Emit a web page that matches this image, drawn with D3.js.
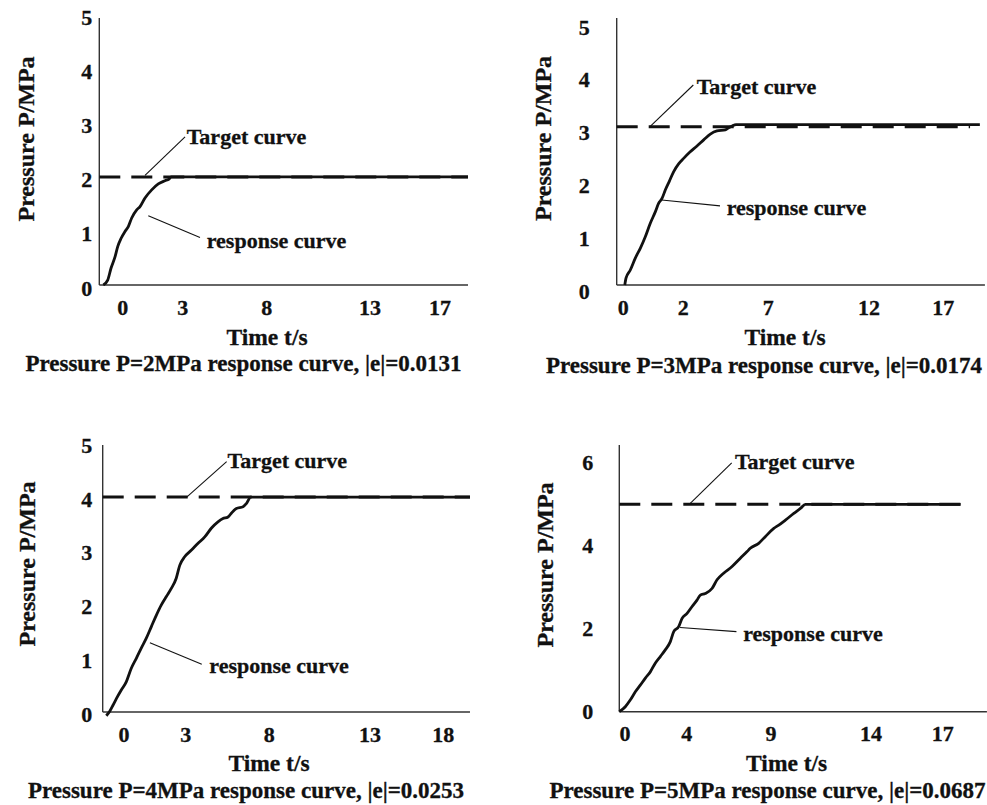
<!DOCTYPE html>
<html lang="en">
<head>
<meta charset="utf-8">
<title>Pressure response curves</title>
<script src="https://cdn.jsdelivr.net/npm/d3@7"></script>
<style>
  body { margin: 0; background: #fff; }
  svg text { font-family: "Liberation Serif", "Times New Roman", serif; font-weight: bold; fill: #111; stroke: #111; stroke-width: 0.3px; }
</style>
</head>
<body>
<div id="chart"></div>
<script>
// values (time in s, pressure in MPa)
var time2 = [-0.97, -0.75, -0.585, -0.385, -0.25, -0.085, 0.115, 0.28, 0.45, 0.7, 0.865, 1.115, 1.45, 1.78, 2.115, 2.315, 2.42, 18.6];
var pres2 = [0, 0.09, 0.31, 0.52, 0.71, 0.86, 0.99, 1.08, 1.24, 1.39, 1.45, 1.61, 1.76, 1.87, 1.93, 1.96, 2.0, 2.0];

var time3 = [0.05, 0.09, 0.23, 0.4, 0.57, 0.73, 0.9, 1.07, 1.18, 1.29, 1.4, 1.53, 1.68, 1.85, 2.02, 2.39, 2.79, 3.2, 3.59, 3.98, 4.47, 4.67, 4.86, 5.1, 19.46];
var pres3 = [0, 0.13, 0.28, 0.51, 0.70, 0.91, 1.17, 1.39, 1.55, 1.64, 1.80, 1.96, 2.15, 2.30, 2.40, 2.52, 2.63, 2.75, 2.86, 2.92, 2.94, 2.98, 3.01, 3.04, 3.04];

var time4 = [-0.86, -0.70, -0.53, -0.37, -0.13, 0.11, 0.35, 0.60, 0.84, 1.08, 1.33, 1.57, 1.81, 2.06, 2.30, 2.54, 2.71, 2.95, 3.33, 3.74, 4.14, 4.53, 4.93, 5.23, 5.53, 5.73, 6.03, 6.43, 6.63, 6.89, 19.82];
var pres4 = [-0.07, 0.01, 0.13, 0.25, 0.41, 0.56, 0.81, 1.00, 1.19, 1.37, 1.59, 1.80, 1.99, 2.15, 2.30, 2.49, 2.73, 2.89, 3.01, 3.14, 3.26, 3.42, 3.54, 3.60, 3.63, 3.70, 3.79, 3.82, 3.88, 4.0, 4.0];

var time5 = [-0.37, 0.02, 0.34, 0.67, 0.99, 1.32, 1.64, 1.96, 2.29, 2.61, 2.94, 3.16, 3.48, 3.70, 4.02, 4.31, 4.61, 4.81, 5.10, 5.50, 5.80, 6.19, 6.69, 7.18, 7.58, 7.77, 8.27, 8.66, 9.14, 9.39, 9.72, 10.14, 10.47, 10.72, 17.75];
var pres5 = [0, 0.12, 0.28, 0.48, 0.64, 0.81, 0.96, 1.17, 1.33, 1.49, 1.69, 1.93, 2.05, 2.25, 2.37, 2.53, 2.69, 2.81, 2.85, 2.97, 3.18, 3.34, 3.50, 3.70, 3.86, 3.94, 4.06, 4.22, 4.42, 4.50, 4.62, 4.78, 4.90, 5.0, 5.0];

var targets = [2, 3, 4, 5];
var targetEnd = [18.6, 18.8, 19.82, 17.75];
var axisEnd = [18.6, 19.8, 19.82, 18.85];

var xTicks2 = [0, 3, 8, 13, 17];
var xTicks3 = [0, 2, 7, 12, 17];
var xTicks4 = [0, 3, 8, 13, 18];
var xTicks5 = [0, 4, 9, 14, 17];
var yTicks2 = [0, 1, 2, 3, 4, 5];
var yTicks3 = [0, 1, 2, 3, 4, 5];
var yTicks4 = [0, 1, 2, 3, 4, 5];
var yTicks5 = [0, 2, 4, 6];

var captions = [
  "Pressure P=2MPa response curve, |e|=0.0131",
  "Pressure P=3MPa response curve, |e|=0.0174",
  "Pressure P=4MPa response curve, |e|=0.0253",
  "Pressure P=5MPa response curve, |e|=0.0687"
];

// leader lines: [t1, p1, t2, p2, textT, textP]
var targetNotes = [[1.115, 2.03, 3.14, 2.74, 3.24, 2.75], [0.89, 3.0, 2.59, 3.79, 2.79, 3.77], [3.06, 4.0, 5.45, 4.66, 5.5, 4.69], [4.15, 5.0, 6.67, 6.0, 6.86, 6.03]];
var responseNotes = [[1.28, 1.28, 4.03, 0.88, 4.43, 0.83], [1.28, 1.61, 4.16, 1.50, 4.55, 1.47], [1.26, 1.29, 3.96, 0.89, 4.41, 0.86], [3.57, 2.03, 6.95, 1.93, 7.35, 1.89]];

// layout of each panel (pixels); the time axis of the figure is not evenly spaced
var panels = [
  { ox: 99.3, oy: 285, top: 18, yMax: 4.94, knots: [23.4, 83.4, 167.4, 270.7, 340.7], t: time2, p: pres2, xt: xTicks2, yt: yTicks2,
    ylabDx: 7, ylabDy: 3, ttl: [267, 337], cap: [243.5, 363], ytl: [25.8, 139] },
  { ox: 616.7, oy: 285, top: 18, yMax: 5.06, knots: [6.6, 66.6, 151.6, 252.3, 326.6], t: time3, p: pres3, xt: xTicks3, yt: yTicks3,
    ylabDx: 27, ylabDy: 6, ttl: [785, 337], cap: [764, 365], ytl: [543, 138.5] },
  { ox: 102.7, oy: 712, top: 445, yMax: 4.97, knots: [21.3, 83, 166.6, 267.3, 340.6], t: time4, p: pres4, xt: xTicks4, yt: yTicks4,
    ylabDx: 10.5, ylabDy: 2, ttl: [269, 763], cap: [246, 790], ytl: [26.7, 564] },
  { ox: 619.3, oy: 711.7, top: 445, yMax: 6.43, knots: [5.7, 67.4, 151.7, 251.7, 323.4], t: time5, p: pres5, xt: xTicks5, yt: yTicks5,
    ylabDx: 26, ylabDy: 0, ttl: [786.7, 763], cap: [767.5, 790], ytl: [545, 565] }
];

var svg = d3.select("#chart").append("svg")
  .attr("width", 987)
  .attr("height", 805);

panels.forEach(function(cfg, i) {
  var x = d3.scaleLinear()
    .domain(cfg.xt)
    .range(cfg.knots.map(function(k) { return cfg.ox + k; }));
  var y = d3.scaleLinear()
    .domain([0, cfg.yMax])
    .range([cfg.oy, cfg.top]);

  var g = svg.append("g");
  var x0 = x.invert(cfg.ox);

  // axes
  g.append("line")
    .attr("x1", cfg.ox).attr("x2", cfg.ox)
    .attr("y1", y(0)).attr("y2", y(cfg.yMax))
    .attr("stroke", "#333").attr("stroke-width", 1.4);
  g.append("line")
    .attr("x1", cfg.ox).attr("x2", x(axisEnd[i]))
    .attr("y1", y(0)).attr("y2", y(0))
    .attr("stroke", "#333").attr("stroke-width", 1.4);

  g.selectAll(".xt").data(cfg.xt).enter().append("text")
    .attr("x", function(d) { return x(d); })
    .attr("y", cfg.oy + 22)
    .attr("dominant-baseline", "central")
    .attr("text-anchor", "middle")
    .attr("font-size", 22)
    .text(function(d) { return d; });

  g.selectAll(".yt").data(cfg.yt).enter().append("text")
    .attr("x", cfg.ox - cfg.ylabDx)
    .attr("y", function(d) { return y(d) + cfg.ylabDy; })
    .attr("dominant-baseline", "central")
    .attr("text-anchor", "end")
    .attr("font-size", 22)
    .text(function(d) { return d; });

  // target (dashed) and response curve
  g.append("line")
    .attr("x1", x(x0)).attr("x2", x(targetEnd[i]))
    .attr("y1", y(targets[i])).attr("y2", y(targets[i]))
    .attr("stroke", "#111").attr("stroke-width", 3)
    .attr("stroke-dasharray", "21,11");

  var pts = cfg.t.map(function(t, j) { return [t, cfg.p[j]]; });
  var line = d3.line()
    .x(function(d) { return x(d[0]); })
    .y(function(d) { return y(d[1]); })
    .curve(d3.curveMonotoneX);
  g.append("path")
    .datum(pts)
    .attr("d", line)
    .attr("fill", "none")
    .attr("stroke", "#111")
    .attr("stroke-width", 2.8)
    .attr("stroke-linejoin", "round");

  // annotations
  [[targetNotes[i], "Target curve"], [responseNotes[i], "response curve"]].forEach(function(n) {
    var a = n[0];
    g.append("line")
      .attr("x1", x(a[0])).attr("y1", y(a[1]))
      .attr("x2", x(a[2])).attr("y2", y(a[3]))
      .attr("stroke", "#111").attr("stroke-width", 1.1);
    g.append("text")
      .attr("x", x(a[4])).attr("y", y(a[5]))
      .attr("dominant-baseline", "central")
      .attr("font-size", 22)
      .text(n[1]);
  });

  // titles
  g.append("text")
    .attr("x", cfg.ttl[0]).attr("y", cfg.ttl[1])
    .attr("text-anchor", "middle").attr("dominant-baseline", "central")
    .attr("font-size", 23.5)
    .text("Time t/s");
  g.append("text")
    .attr("x", cfg.cap[0]).attr("y", cfg.cap[1])
    .attr("text-anchor", "middle").attr("dominant-baseline", "central")
    .attr("font-size", 23)
    .text(captions[i]);
  g.append("text")
    .attr("transform", "translate(" + cfg.ytl[0] + "," + cfg.ytl[1] + ") rotate(-90)")
    .attr("text-anchor", "middle").attr("dominant-baseline", "central")
    .attr("font-size", 24)
    .text("Pressure P/MPa");
});
</script>
</body>
</html>
